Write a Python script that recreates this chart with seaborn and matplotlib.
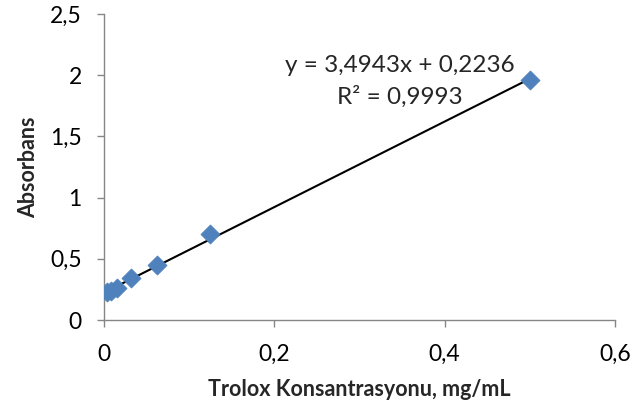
import matplotlib
matplotlib.use("Agg")
import matplotlib.pyplot as plt
import seaborn as sns
import numpy as np
import pandas as pd
from matplotlib.ticker import FuncFormatter

# ─── Data ─────────────────────────────────────────────────────────────────────
konsantrasyon = [0.0039, 0.0078, 0.0156, 0.03125, 0.0625, 0.125, 0.5]
absorbans     = [0.23, 0.24, 0.26, 0.34, 0.45, 0.70, 1.96]
egim, kesim   = 3.4943, 0.2236
denklem       = "y = 3,4943x + 0,2236"
r2_metin      = "R² = 0,9993"

df = pd.DataFrame({"x": konsantrasyon, "y": absorbans})
trend = pd.DataFrame({"x": [min(konsantrasyon), max(konsantrasyon)]})
trend["y"] = egim * trend["x"] + kesim

sns.set_style("white")
plt.rcParams["font.family"] = ["Lato", "DejaVu Sans"]

fig = plt.figure(figsize=(6.32, 4.11), dpi=100)
ax = fig.add_axes([104 / 632, 1 - 320 / 411, 511 / 632, 306 / 411])

sns.lineplot(data=trend, x="x", y="y", ax=ax, color="black", lw=1.5)
sns.scatterplot(data=df, x="x", y="y", ax=ax, marker="D", s=95,
                color="#4F81BD", edgecolor="#4F81BD", linewidth=0.5, zorder=3)

ax.set_xlim(0, 0.6)
ax.set_ylim(0, 2.5)
ax.set_xticks(np.arange(0, 0.61, 0.2))
ax.set_yticks(np.arange(0, 2.51, 0.5))
comma = FuncFormatter(lambda v, _: f"{v:g}".replace(".", ","))
ax.xaxis.set_major_formatter(FuncFormatter(lambda v, _: f"{v:.1f}".replace(".", ",") if v else "0"))
ax.yaxis.set_major_formatter(comma)

for s in ["top", "right"]:
    ax.spines[s].set_visible(False)
for s in ["left", "bottom"]:
    ax.spines[s].set_color("#868686")
    ax.spines[s].set_linewidth(1)
ax.tick_params(axis="both", direction="out", length=5, width=1, color="#868686",
               labelsize=16.5, labelcolor="black", bottom=True, left=True)
ax.tick_params(axis="x", pad=12)
ax.tick_params(axis="y", pad=11)

ax.set_xlabel("Trolox Konsantrasyonu, mg/mL", fontsize=15.5, fontweight="bold", labelpad=10)
ax.set_ylabel("Absorbans", fontsize=15.5, fontweight="bold", labelpad=8)

ax.text(0.3475, 2.08, denklem, ha="center", va="center", fontsize=17.5)
ax.text(0.3475, 1.82, r2_metin, ha="center", va="center", fontsize=17.5)

fig.savefig("out.png", dpi=100)
